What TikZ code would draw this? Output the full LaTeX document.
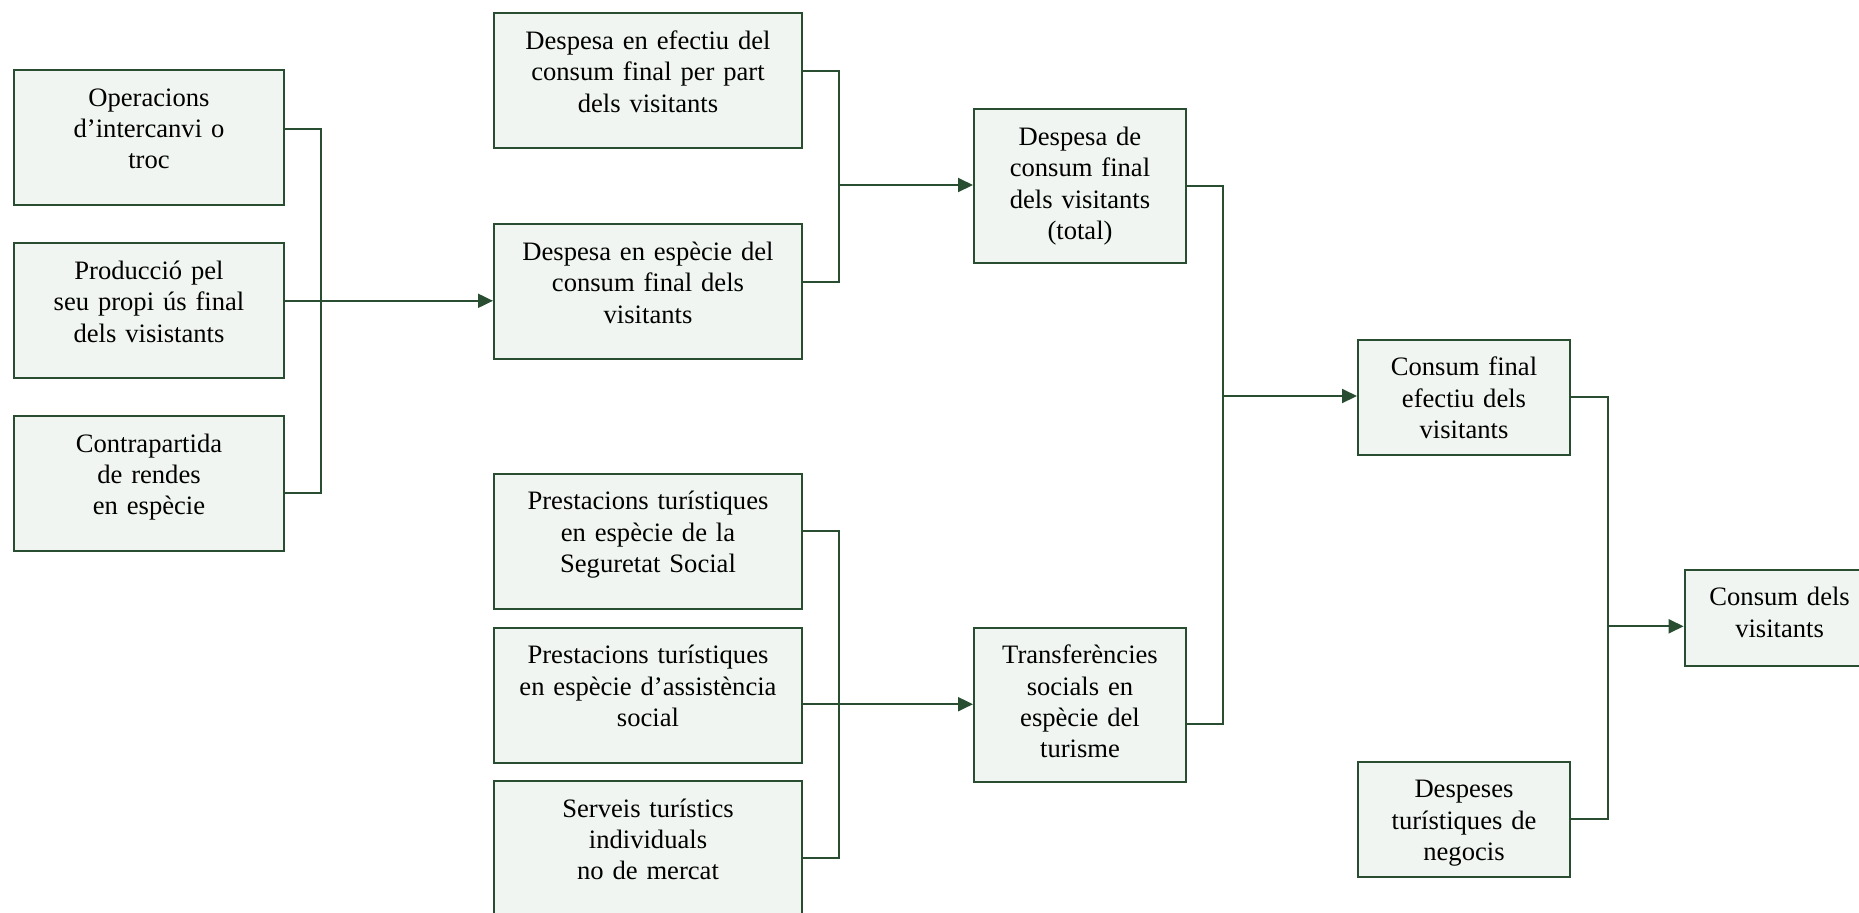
\documentclass[tikz,border=0pt]{standalone}
\usepackage{fontspec}
\setmainfont{Liberation Serif}
\usetikzlibrary{arrows.meta}
\usetikzlibrary{calc}
\usepackage{xcolor}
\definecolor{boxline}{RGB}{41,77,49}
\definecolor{boxfill}{RGB}{240,245,241}

\begin{document}
\begin{tikzpicture}[x=0.5pt,y=-0.5pt,
    box/.style={draw=boxline, fill=boxfill, line width=1pt, anchor=north west, align=center,
      inner xsep=2pt, inner ysep=0pt, text height=18pt, font=\fontsize{13.3pt}{15.7pt}\selectfont},
    lbox/.style={box, text width=131pt, text depth=49.5pt},
    mbox/.style={box, text width=150pt, text depth=49.5pt},
    rbox/.style={box, text width=102pt, text depth=#1},
    link/.style={draw=boxline, line width=1pt},
    arr/.style={link, -{Triangle[length=7.5pt,width=7pt]}}]
      \useasboundingbox (0,0) rectangle (1859,912);

      % Left boxes
      \node[lbox] (op) at (13,69) {Operacions\\d’intercanvi o\\troc};
      \node[lbox] (prod) at (13,242.3) {Producció pel\\seu propi ús final\\dels visistants};
      \node[lbox] (contra) at (13,415) {Contrapartida\\de rendes\\en espècie};

      % Middle boxes
      \node[mbox] (efec) at (493,12.3) {Despesa en efectiu del\\consum final per part\\dels visitants};
      \node[mbox] (esp) at (493,223.3) {Despesa en espècie del\\consum final dels\\visitants};
      \node[mbox] (segsoc) at (493,472.7) {Prestacions turístiques\\en espècie de la\\Seguretat Social};
      \node[mbox] (asist) at (493,626.7) {Prestacions turístiques\\en espècie d’assistència\\social};
      \node[mbox] (serv) at (493,780) {Serveis turístics\\individuals\\no de mercat};

      % Right boxes
      \node[rbox=58.7pt] (total) at (973,108.3) {Despesa de\\consum final\\dels visitants\\(total)};
      \node[rbox=59pt] (transf) at (973,626.7) {Transferències\\socials en\\espècie del\\turisme};
      \node[rbox=39.6pt] (cfinal) at (1357,338.6) {Consum final\\efectiu dels\\visitants};
      \node[rbox=39.5pt] (desp) at (1357,760.9) {Despeses\\turístiques de\\negocis};
      \node[box, text width=91pt, text depth=30.2pt] (cdels) at (1683.6,568.8) {Consum dels\\visitants};

      % Bars
      \coordinate (b1) at (320.7,0);
      \coordinate (b2) at (839.1,185);
      \coordinate (b3) at (839.2,0);
      \coordinate (b4) at (1223,396);
      \coordinate (b5) at (1607.7,626.3);
      \coordinate (opout) at ($(op.east)+(0,-8.8)$);
      \coordinate (prodout) at ($(prod.east)+(0,-10)$);
      \coordinate (efecout) at ($(efec.east)+(0,-9.5)$);
      \coordinate (ssout) at ($(segsoc.east)+(0,-9.9)$);
      \coordinate (asout) at ($(asist.east)+(0,9)$);

      % Connectors
      \draw[link] (opout) -- (opout -| b1) |- ($(contra.east)+(0,9.8)$);
      \draw[arr] (prodout) -- (prodout -| esp.west);
      \draw[link] (efecout) -- (efecout -| b2) |- ($(esp.east)+(0,-9.8)$);
      \draw[arr] (b2) -- (b2 -| total.west);
      \draw[link] (ssout) -- (ssout -| b3) |- ($(serv.east)+(0,9.2)$);
      \draw[arr] (asout) -- (asout -| transf.west);
      \draw[link] (total.east) -- (total.east -| b4) |- ($(transf.east)+(0,19)$);
      \draw[arr] (b4) -- (b4 -| cfinal.west);
      \draw[link] (cfinal.east) -- (cfinal.east -| b5) |- (desp.east);
      \draw[arr] (b5) -- (b5 -| cdels.west);

  \end{tikzpicture}
\end{document}
